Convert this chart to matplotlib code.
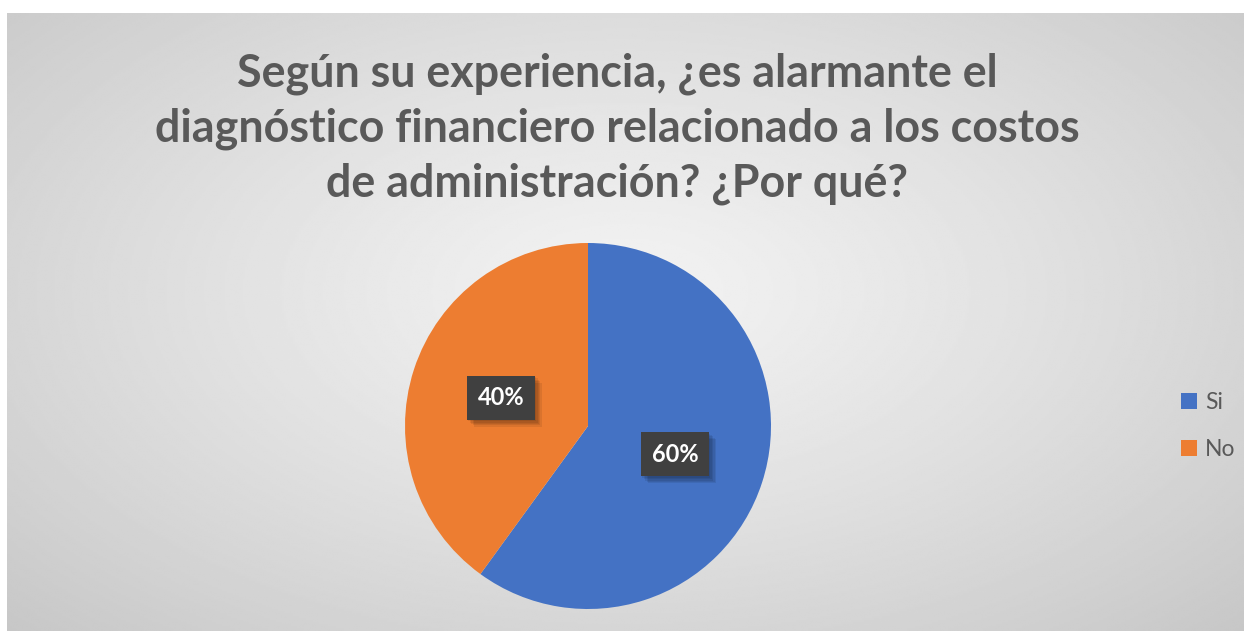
import numpy as np
import matplotlib.pyplot as plt
import matplotlib.patheffects as pe
from matplotlib.patches import Patch

labels = ['Si', 'No']
values = [60, 40]
colors = ['#4472C4', '#ED7D31']
title = ('Según su experiencia, ¿es alarmante el\n'
         'diagnóstico financiero relacionado a los costos\n'
         'de administración? ¿Por qué?')

W, H = 1244, 631
fig = plt.figure(figsize=(W / 100, H / 100), dpi=100)
fig.patch.set_facecolor('white')

# radial gray background
bg = fig.add_axes([7 / W, 0, 1 - 7 / W, (H - 13) / H], zorder=-1)
yy, xx = np.mgrid[0:1:300j, 0:1:600j]
r = np.sqrt(((xx - 0.5) / 0.5) ** 2 + ((yy - 0.45) / 0.55) ** 2) / np.sqrt(2)
shade = 0.95 - 0.17 * np.clip(r, 0, 1) ** 1.2
bg.imshow(shade, cmap='gray', vmin=0, vmax=1, aspect='auto',
          extent=[0, 1, 0, 1], interpolation='bilinear')
bg.set_axis_off()

# pie
cx, cy, rad = 588, 426, 183
ax = fig.add_axes([(cx - rad) / W, (H - cy - rad) / H, 2 * rad / W, 2 * rad / H])
wedges, texts, autotexts = ax.pie(values, colors=colors, startangle=90,
                                  counterclock=False, autopct='%1.0f%%',
                                  pctdistance=0.5,
                                  wedgeprops=dict(linewidth=0))
ax.set_xlim(-1, 1)
ax.set_ylim(-1, 1)
ax.set_aspect('equal')
ax.set_axis_off()

# soft shadow: a few stacked faint offsets
shadow = [pe.SimplePatchShadow(offset=(o, -o), shadow_rgbFace='black', alpha=0.08)
          for o in (1, 2, 3, 4, 5)]
for t in autotexts:
    t.set_color('white')
    t.set_fontsize(17)
    t.set_fontweight('bold')
    t.set_family('Lato')
    t.set_bbox(dict(boxstyle='square,pad=0.45', facecolor='#404040',
                    edgecolor='none'))
    t.get_bbox_patch().set_path_effects(shadow + [pe.Normal()])

fig.text(617 / W, 1 - 129 / H, title, ha='center', va='center',
         fontsize=32.3, fontweight='bold', family='Lato', color='#595959',
         linespacing=1.37)

handles = [Patch(facecolor=c, edgecolor='none') for c in colors]
fig.legend(handles, labels, loc='center left',
           bbox_to_anchor=(1181 / W, 1 - 426 / H), frameon=False,
           borderpad=0, borderaxespad=0,
           handlelength=0.7, handleheight=0.7, handletextpad=0.35,
           labelspacing=1.15, prop=dict(family='Lato', size=16.5),
           labelcolor='#595959')

fig.savefig('out.png', dpi=100)
